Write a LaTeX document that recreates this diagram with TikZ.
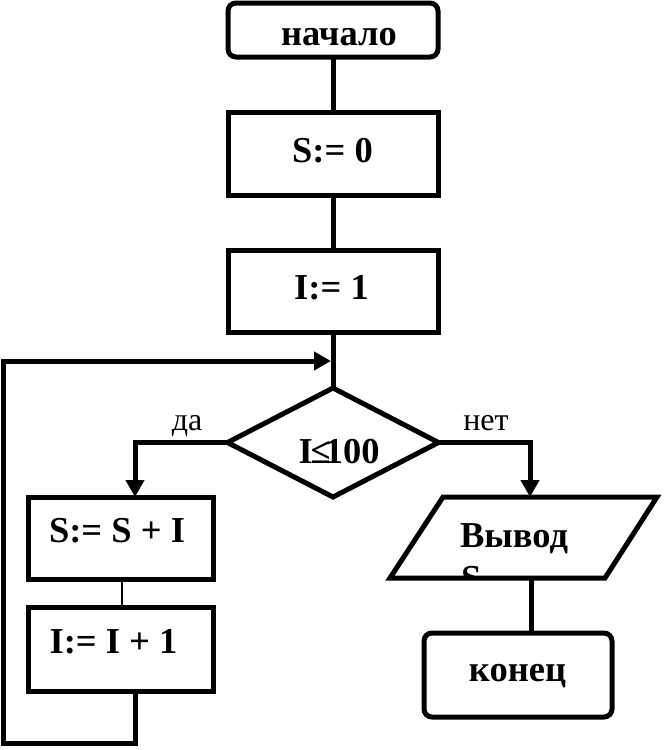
\documentclass[tikz,border=0pt]{standalone}
\usepackage{fontspec}
\setmainfont{Liberation Serif}
\usetikzlibrary{shapes.geometric,arrows.meta}
\tikzset{
  every node/.style={inner sep=0pt, outer sep=0pt},
  box/.style={draw, line width=5pt, rectangle},
  term/.style={box, rounded corners=8pt},
  cond/.style={draw, line width=5pt, diamond, aspect=1.94},
  txt/.style={font=\bfseries\fontsize{36.5}{40}\selectfont, anchor=base},
  lbl/.style={font=\fontsize{32}{36}\selectfont, anchor=base},
  conn/.style={line width=5pt, line join=miter},
  arr/.style={conn, -{Triangle[length=17pt,width=18pt]}},
  thin/.style={line width=1.3pt}
}
\begin{document}
\begin{tikzpicture}[x=1pt,y=-1pt]
\useasboundingbox (0,0) rectangle (666,750);
% shapes
\node[term, minimum width=210pt, minimum height=54pt] (start) at (333,30) {};
\node[box, minimum width=210pt, minimum height=83pt] (s0) at (333,153.5) {};
\node[box, minimum width=210pt, minimum height=82pt] (i1) at (333,291) {};
\node[cond, minimum width=211pt, minimum height=109pt] (c) at (333,442.5) {};
\node[box, minimum width=185pt, minimum height=82pt] (s2) at (120.5,538) {};
\node[box, minimum width=185pt, minimum height=84pt] (i2) at (120.5,649) {};
\node[term, minimum width=188pt, minimum height=84pt] (fin) at (518,675) {};
% texts
\node[txt] (startt) at (339,45) {начало};
\node[txt] (s0t) at (332.5,162) {S:= 0};
\node[txt] (i1t) at (331.5,299) {I:= 1};
\node[txt] (ct) at (339,463) {I\kern-2pt≤\kern-6pt100};
\node[txt] (s2t) at (117,542) {S:= S + I};
\node[txt] (i2t) at (113.5,653) {I:= I + 1};
\node[txt] (fint) at (517.5,681) {конец};
% output parallelogram
\coordinate (otl) at (443,497);
\coordinate (otr) at (657,497);
\coordinate (obr) at (605,578);
\coordinate (obl) at (390,578);
\draw[line width=5pt, line join=miter] (otl) -- (otr) -- (obr) -- (obl) -- cycle;
\node[txt] (outt) at (514,547) {Вывод};
\begin{scope}
  \clip (400,500) rectangle (640,575);
  \node[txt, anchor=base west] (outs) at (461,590) {S};
\end{scope}
\coordinate (otin) at (530,497);
\coordinate (obout) at (531,578);
% labels
\node[lbl] (yes) at (187,430) {да};
\node[lbl] (no) at (486,430) {нет};
% loop coordinates
\coordinate (lb) at (3,743);
\coordinate (lj) at (331,361);
% connectors
\draw[conn] (start.south) -- (s0.north);
\draw[conn] (s0.south) -- (i1.north);
\draw[conn] (i1.south) -- (c.north);
\draw[arr] (c.west) -| ([xshift=14.5pt]s2.north);
\draw[arr] (c.east) -| (otin);
\draw[thin] ([xshift=1.5pt]s2.south) -- ([xshift=1.5pt]i2.north);
\draw[conn] (obout) -- (obout |- fin.north);
\draw[arr] ([xshift=14.5pt]i2.south) |- (lb) |- (lj);
\end{tikzpicture}
\end{document}
